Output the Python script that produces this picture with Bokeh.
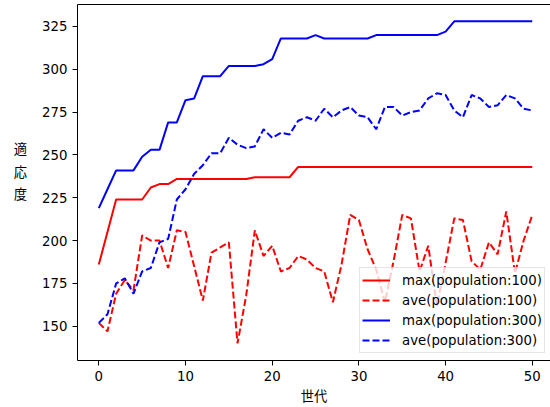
from bokeh.plotting import figure
from bokeh.models import Range1d, FixedTicker, Legend, LegendItem, LinearAxis
from bokeh.embed import file_html
from bokeh.resources import INLINE

generations = list(range(51))

max_pop100 = [186, 205, 224, 224, 224, 224, 231, 233, 233, 236,
              236, 236, 236, 236, 236, 236, 236, 236, 237, 237,
              237, 237, 237, 243, 243, 243, 243, 243, 243, 243,
              243, 243, 243, 243, 243, 243, 243, 243, 243, 243,
              243, 243, 243, 243, 243, 243, 243, 243, 243, 243, 243]

ave_pop100 = [152, 147, 169, 177, 171, 203, 200, 200, 184, 206,
              205, 185, 165, 193, 196, 199, 140, 168, 206, 191,
              197, 182, 184, 191, 189, 184, 182, 164, 186, 215,
              212, 195, 183, 164, 188, 215, 213, 182, 197, 162,
              187, 213, 212, 188, 183, 199, 192, 217, 181, 200, 215]

max_pop300 = [219, 230, 241, 241, 241, 249, 253, 253, 269, 269,
              282, 283, 296, 296, 296, 302, 302, 302, 302, 303,
              306, 318, 318, 318, 318, 320, 318, 318, 318, 318,
              318, 318, 320, 320, 320, 320, 320, 320, 320, 320,
              322, 328, 328, 328, 328, 328, 328, 328, 328, 328, 328]

ave_pop300 = [152, 157, 175, 178, 169, 182, 184, 199, 201, 224,
              230, 239, 244, 251, 251, 260, 256, 254, 255, 265,
              260, 263, 262, 270, 272, 270, 277, 272, 276, 278,
              273, 272, 265, 278, 278, 273, 275, 276, 283, 286,
              285, 276, 272, 285, 283, 278, 279, 285, 283, 277, 276]

x_ticks = [0, 10, 20, 30, 40, 50]
y_ticks = [150, 175, 200, 225, 250, 275, 300, 325]
series_labels = ["max(population:100)", "ave(population:100)",
                 "max(population:300)", "ave(population:300)"]
x_label = "世代"
y_label = "適応度"

p = figure(width=550, height=407, output_backend="svg", toolbar_location=None,
           x_range=Range1d(-2.457, 52.1), y_range=Range1d(130.02, 337.84),
           min_border_left=77, min_border_right=0, min_border_top=4,
           min_border_bottom=47)

p.xgrid.visible = False
p.ygrid.visible = False
p.outline_line_color = None
p.background_fill_color = "white"
p.border_fill_color = "white"

xb = p.below[0]
yl = p.left[0]

for ax in (xb, yl):
    ax.major_tick_out = 5
    ax.major_tick_in = 0
    ax.minor_tick_out = 0
    ax.minor_tick_in = 0
    ax.axis_line_color = "black"
    ax.major_tick_line_color = "black"
    ax.major_label_text_font = "DejaVu Sans"
    ax.major_label_text_font_size = "13.3px"
    ax.major_label_text_color = "black"
    ax.major_label_standoff = 5
    ax.axis_label_text_font = "Noto Sans CJK JP"
    ax.axis_label_text_font_size = "13.3px"
    ax.axis_label_text_font_style = "normal"
    ax.axis_label_text_color = "black"

xb.ticker = FixedTicker(ticks=x_ticks)
yl.ticker = FixedTicker(ticks=y_ticks)

xb.axis_label = x_label
xb.axis_label_standoff = 2

yl.axis_label = "\n".join(list(y_label)) + "\n"
yl.axis_label_standoff = 12
if hasattr(yl, "axis_label_orientation"):
    yl.axis_label_orientation = "horizontal"

# top spine only (matplotlib frame; right spine lies beyond the picture)
top_axis = LinearAxis(ticker=FixedTicker(ticks=[]), major_label_text_font_size="0px",
                      major_tick_out=0, major_tick_in=0, minor_tick_out=0, minor_tick_in=0,
                      major_label_standoff=0, axis_line_color="black")
p.add_layout(top_axis, "above")

dash = "7 3"
r1 = p.line(generations, max_pop100, line_color="#ff0000", line_width=2)
r2 = p.line(generations, ave_pop100, line_color="#ff0000", line_width=2, line_dash=dash)
r3 = p.line(generations, max_pop300, line_color="#0000ff", line_width=2)
r4 = p.line(generations, ave_pop300, line_color="#0000ff", line_width=2, line_dash=dash)

legend = Legend(items=[LegendItem(label=series_labels[i], renderers=[r])
                       for i, r in enumerate([r1, r2, r3, r4])],
                location=(282, 7), padding=2, spacing=0, margin=0,
                label_height=20, glyph_height=20, glyph_width=28,
                label_standoff=12, label_text_font="DejaVu Sans",
                label_text_font_size="13.3px", label_text_color="black",
                border_line_color="#cccccc", border_line_width=1,
                background_fill_color="white", background_fill_alpha=0.8)
p.add_layout(legend)

open("out.html", "w").write(file_html(p, INLINE))
